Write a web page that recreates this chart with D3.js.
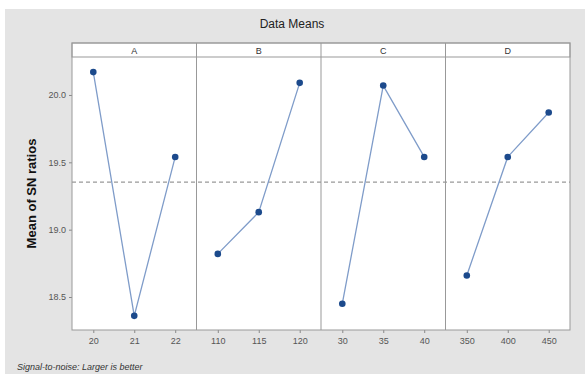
<!DOCTYPE html>
<html>
<head>
<meta charset="utf-8">
<script src="https://cdnjs.cloudflare.com/ajax/libs/d3/7.8.5/d3.min.js"></script>
<style>
  body { margin: 0; background: #fff; }
  text { font-family: Arial, "Liberation Sans", sans-serif; }
</style>
</head>
<body>
<div id="chart"></div>
<script>
var width = 585;
var height = 374;

// factors and their levels
var factors = ['A', 'B', 'C', 'D'];
var levelsA = ['20', '21', '22'];
var levelsB = ['110', '115', '120'];
var levelsC = ['30', '35', '40'];
var levelsD = ['350', '400', '450'];

// mean of SN ratios
var meansA = [20.17, 18.36, 19.54];
var meansB = [18.82, 19.13, 20.09];
var meansC = [18.45, 20.07, 19.54];
var meansD = [18.66, 19.54, 19.87];

var yTicks = [18.5, 19.0, 19.5, 20.0];

var levels = [levelsA, levelsB, levelsC, levelsD];
var means = [meansA, meansB, meansC, meansD];

var plotLeft = 72, plotRight = 570, stripTop = 43, plotTop = 57, plotBottom = 330;

var svg = d3.select('#chart').append('svg')
    .attr('width', width)
    .attr('height', height);

// grey backdrop
svg.append('rect')
    .attr('x', 5).attr('y', 9)
    .attr('width', width - 5).attr('height', height - 9)
    .attr('fill', '#e4e4e4');

svg.append('text')
    .attr('x', 292).attr('y', 28)
    .attr('text-anchor', 'middle')
    .attr('font-size', 12)
    .attr('fill', '#222')
    .text('Data Means');

var y = d3.scaleLinear()
    .domain([18.255, 20.282])
    .range([plotBottom, plotTop]);

var allMeans = [].concat(meansA, meansB, meansC, meansD);
var grandMean = d3.mean(allMeans);

var panel = d3.scaleBand()
    .domain(factors)
    .range([plotLeft, plotRight]);

// plot background
svg.append('rect')
    .attr('x', plotLeft).attr('y', plotTop)
    .attr('width', plotRight - plotLeft).attr('height', plotBottom - plotTop)
    .attr('fill', '#fff');

// strip
svg.append('rect')
    .attr('x', plotLeft).attr('y', stripTop)
    .attr('width', plotRight - plotLeft).attr('height', plotTop - stripTop)
    .attr('fill', '#fff')
    .attr('stroke', '#999');

// y axis
var yAxis = svg.append('g')
    .attr('transform', 'translate(' + plotLeft + ',0)')
    .call(d3.axisLeft(y).tickValues(yTicks).tickFormat(d3.format('.1f')).tickSize(3));
yAxis.select('.domain').remove();
yAxis.selectAll('line').attr('stroke', '#888');
yAxis.selectAll('text').attr('font-size', 9).attr('fill', '#555');

svg.append('text')
    .attr('transform', 'translate(36,' + ((plotTop + plotBottom) / 2) + ') rotate(-90)')
    .attr('text-anchor', 'middle')
    .attr('font-size', 13)
    .attr('font-weight', 'bold')
    .attr('fill', '#111')
    .text('Mean of SN ratios');

// reference line (grand mean)
svg.append('line')
    .attr('x1', plotLeft).attr('x2', plotRight)
    .attr('y1', y(grandMean)).attr('y2', y(grandMean))
    .attr('stroke', '#999')
    .attr('stroke-width', 1.2)
    .attr('stroke-dasharray', '4,3');

factors.forEach(function (f, i) {
    var x0 = panel(f);
    var x = d3.scalePoint()
        .domain(levels[i])
        .range([x0, x0 + panel.bandwidth()])
        .padding(0.52);

    var g = svg.append('g');

    g.append('text')
        .attr('x', x0 + panel.bandwidth() / 2)
        .attr('y', stripTop + 11)
        .attr('text-anchor', 'middle')
        .attr('font-size', 9)
        .attr('fill', '#333')
        .text(f);

    if (i > 0) {
        g.append('line')
            .attr('x1', x0).attr('x2', x0)
            .attr('y1', stripTop).attr('y2', plotBottom)
            .attr('stroke', '#999');
    }

    var xAxis = g.append('g')
        .attr('transform', 'translate(0,' + plotBottom + ')')
        .call(d3.axisBottom(x).tickSize(3).tickSizeOuter(0));
    xAxis.select('.domain').remove();
    xAxis.selectAll('line').attr('stroke', '#888');
    xAxis.selectAll('text').attr('font-size', 9).attr('fill', '#555').attr('dy', '0.9em');

    var pts = levels[i].map(function (l, j) { return [l, means[i][j]]; });

    g.append('path')
        .datum(pts)
        .attr('fill', 'none')
        .attr('stroke', '#7f9cc9')
        .attr('stroke-width', 1.3)
        .attr('d', d3.line().x(function (d) { return x(d[0]); }).y(function (d) { return y(d[1]); }));

    g.selectAll('circle')
        .data(pts)
        .enter()
        .append('circle')
        .attr('cx', function (d) { return x(d[0]); })
        .attr('cy', function (d) { return y(d[1]); })
        .attr('r', 3.3)
        .attr('fill', '#1c4a8c');
});

// plot frame
svg.append('rect')
    .attr('x', plotLeft).attr('y', stripTop)
    .attr('width', plotRight - plotLeft).attr('height', plotBottom - stripTop)
    .attr('fill', 'none')
    .attr('stroke', '#999');

svg.append('text')
    .attr('x', 17).attr('y', 370)
    .attr('font-size', 9)
    .attr('font-style', 'italic')
    .attr('fill', '#333')
    .text('Signal-to-noise: Larger is better');
</script>
</body>
</html>
